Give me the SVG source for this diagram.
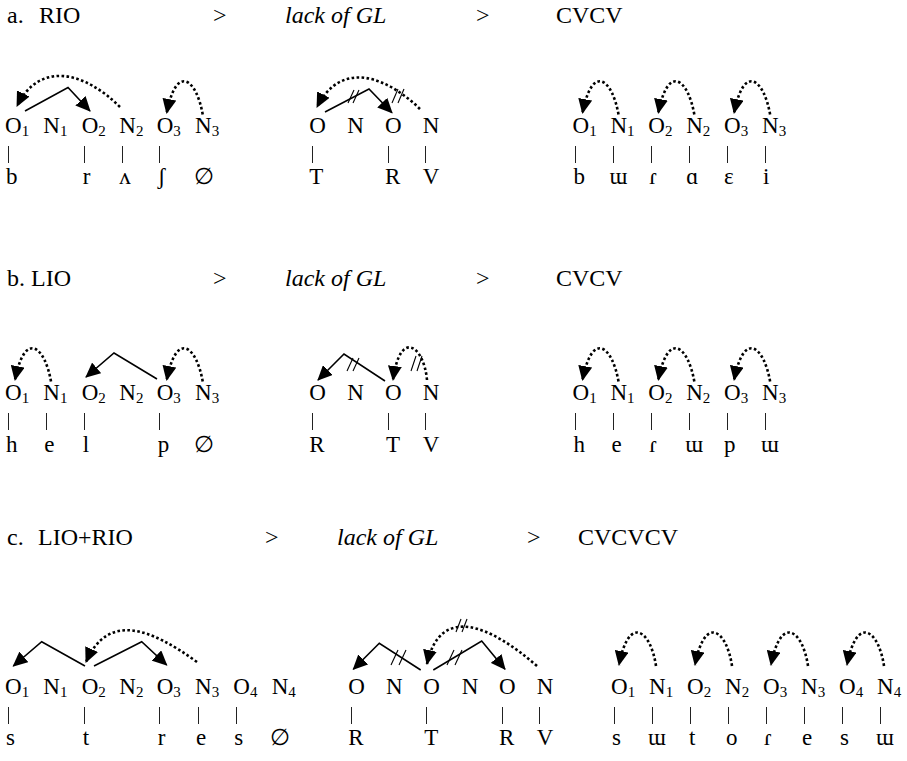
<svg xmlns="http://www.w3.org/2000/svg" width="907" height="761" viewBox="0 0 907 761">
<style>
.t{font-family:"Liberation Serif","DejaVu Serif",serif;font-size:23px;fill:#000}
.h{font-size:24px}
.i{font-style:italic}
.s{font-size:15px}
.bar{stroke:#222;stroke-width:1}
.solid{fill:none;stroke:#000;stroke-width:1.6}
.dot{fill:none;stroke:#000;stroke-width:2.6;stroke-dasharray:2.6 2.4}
.cut{stroke:#000;stroke-width:1.1}
</style>
<defs>
<marker id="ah" markerUnits="userSpaceOnUse" markerWidth="15" markerHeight="14" viewBox="0 0 15 14" refX="14" refY="7" orient="auto"><path d="M0,0 L15,7 L0,14 z" fill="#000"/></marker>
</defs>
<rect width="907" height="761" fill="#fff"/>

<g id="headers" class="t h">
<text x="7" y="23">a.</text><text x="39" y="23">RIO</text><text x="213" y="23">&gt;</text><text class="i" x="285" y="23">lack of GL</text><text x="476" y="23">&gt;</text><text x="556" y="23">CVCV</text>
<text x="7" y="286">b. LIO</text><text x="213" y="286">&gt;</text><text class="i" x="285" y="286">lack of GL</text><text x="476" y="286">&gt;</text><text x="556" y="286">CVCV</text>
<text x="7" y="545">c.</text><text x="38" y="545">LIO+RIO</text><text x="265" y="545">&gt;</text><text class="i" x="337" y="545">lack of GL</text><text x="527" y="545">&gt;</text><text x="578" y="545">CVCVCV</text>
</g>

<!-- Row a left -->
<g id="a-L-O1" class="t"><text x="5" y="133">O<tspan class="s" dy="3">1</tspan></text><line class="bar" x1="8.5" y1="146" x2="8.5" y2="163"/><text x="6" y="184">b</text></g>
<g id="a-L-N1" class="t"><text x="43.3" y="133">N<tspan class="s" dy="3">1</tspan></text></g>
<g id="a-L-O2" class="t"><text x="81.7" y="133">O<tspan class="s" dy="3">2</tspan></text><line class="bar" x1="84.5" y1="146" x2="84.5" y2="163"/><text x="82.7" y="184">r</text></g>
<g id="a-L-N2" class="t"><text x="119.3" y="133">N<tspan class="s" dy="3">2</tspan></text><line class="bar" x1="122.5" y1="146" x2="122.5" y2="163"/><text x="119.3" y="184">ʌ</text></g>
<g id="a-L-O3" class="t"><text x="156.7" y="133">O<tspan class="s" dy="3">3</tspan></text><line class="bar" x1="159.5" y1="146" x2="159.5" y2="163"/><text x="157.7" y="184">ʃ</text></g>
<g id="a-L-N3" class="t"><text x="195" y="133">N<tspan class="s" dy="3">3</tspan></text><text x="194" y="184">∅</text></g>

<!-- Row a middle -->
<g id="a-M-O1" class="t"><text x="309.3" y="133">O</text><line class="bar" x1="312.5" y1="146" x2="312.5" y2="163"/><text x="309.3" y="184">T</text></g>
<g id="a-M-N1" class="t"><text x="347.3" y="133">N</text></g>
<g id="a-M-O2" class="t"><text x="385" y="133">O</text><line class="bar" x1="388.5" y1="146" x2="388.5" y2="163"/><text x="385" y="184">R</text></g>
<g id="a-M-N2" class="t"><text x="422.7" y="133">N</text><line class="bar" x1="425.5" y1="146" x2="425.5" y2="163"/><text x="422.7" y="184">V</text></g>

<!-- Row a right -->
<g id="a-R-O1" class="t"><text x="572.5" y="133">O<tspan class="s" dy="3">1</tspan></text><line class="bar" x1="575.5" y1="146" x2="575.5" y2="163"/><text x="573.5" y="184">b</text></g>
<g id="a-R-N1" class="t"><text x="610.4" y="133">N<tspan class="s" dy="3">1</tspan></text><line class="bar" x1="613.5" y1="146" x2="613.5" y2="163"/><text x="609.4" y="184">ɯ</text></g>
<g id="a-R-O2" class="t"><text x="648.3" y="133">O<tspan class="s" dy="3">2</tspan></text><line class="bar" x1="651.5" y1="146" x2="651.5" y2="163"/><text x="649.3" y="184">ɾ</text></g>
<g id="a-R-N2" class="t"><text x="686.2" y="133">N<tspan class="s" dy="3">2</tspan></text><line class="bar" x1="689.5" y1="146" x2="689.5" y2="163"/><text x="686.2" y="184">ɑ</text></g>
<g id="a-R-O3" class="t"><text x="724.1" y="133">O<tspan class="s" dy="3">3</tspan></text><line class="bar" x1="727.5" y1="146" x2="727.5" y2="163"/><text x="724.1" y="184">ɛ</text></g>
<g id="a-R-N3" class="t"><text x="762" y="133">N<tspan class="s" dy="3">3</tspan></text><line class="bar" x1="765.5" y1="146" x2="765.5" y2="163"/><text x="763" y="184">i</text></g>

<!-- Row b left -->
<g id="b-L-O1" class="t"><text x="5" y="400">O<tspan class="s" dy="3">1</tspan></text><line class="bar" x1="8.5" y1="413" x2="8.5" y2="430"/><text x="6" y="452">h</text></g>
<g id="b-L-N1" class="t"><text x="43.3" y="400">N<tspan class="s" dy="3">1</tspan></text><line class="bar" x1="46.5" y1="413" x2="46.5" y2="430"/><text x="44.3" y="452">e</text></g>
<g id="b-L-O2" class="t"><text x="81.7" y="400">O<tspan class="s" dy="3">2</tspan></text><line class="bar" x1="84.5" y1="413" x2="84.5" y2="430"/><text x="82.7" y="452">l</text></g>
<g id="b-L-N2" class="t"><text x="119.3" y="400">N<tspan class="s" dy="3">2</tspan></text></g>
<g id="b-L-O3" class="t"><text x="156.7" y="400">O<tspan class="s" dy="3">3</tspan></text><line class="bar" x1="159.5" y1="413" x2="159.5" y2="430"/><text x="157.7" y="452">p</text></g>
<g id="b-L-N3" class="t"><text x="195" y="400">N<tspan class="s" dy="3">3</tspan></text><text x="194" y="452">∅</text></g>

<!-- Row b middle -->
<g id="b-M-O1" class="t"><text x="309.3" y="400">O</text><line class="bar" x1="312.5" y1="413" x2="312.5" y2="430"/><text x="309.3" y="452">R</text></g>
<g id="b-M-N1" class="t"><text x="347.3" y="400">N</text></g>
<g id="b-M-O2" class="t"><text x="385" y="400">O</text><line class="bar" x1="388.5" y1="413" x2="388.5" y2="430"/><text x="386" y="452">T</text></g>
<g id="b-M-N2" class="t"><text x="422.7" y="400">N</text><line class="bar" x1="425.5" y1="413" x2="425.5" y2="430"/><text x="422.7" y="452">V</text></g>

<!-- Row b right -->
<g id="b-R-O1" class="t"><text x="572.5" y="400">O<tspan class="s" dy="3">1</tspan></text><line class="bar" x1="575.5" y1="413" x2="575.5" y2="430"/><text x="573.5" y="452">h</text></g>
<g id="b-R-N1" class="t"><text x="610.4" y="400">N<tspan class="s" dy="3">1</tspan></text><line class="bar" x1="613.5" y1="413" x2="613.5" y2="430"/><text x="611.4" y="452">e</text></g>
<g id="b-R-O2" class="t"><text x="648.3" y="400">O<tspan class="s" dy="3">2</tspan></text><line class="bar" x1="651.5" y1="413" x2="651.5" y2="430"/><text x="649.3" y="452">ɾ</text></g>
<g id="b-R-N2" class="t"><text x="686.2" y="400">N<tspan class="s" dy="3">2</tspan></text><line class="bar" x1="689.5" y1="413" x2="689.5" y2="430"/><text x="685.2" y="452">ɯ</text></g>
<g id="b-R-O3" class="t"><text x="724.1" y="400">O<tspan class="s" dy="3">3</tspan></text><line class="bar" x1="727.5" y1="413" x2="727.5" y2="430"/><text x="724.1" y="452">p</text></g>
<g id="b-R-N3" class="t"><text x="762" y="400">N<tspan class="s" dy="3">3</tspan></text><line class="bar" x1="765.5" y1="413" x2="765.5" y2="430"/><text x="761" y="452">ɯ</text></g>

<!-- Row c left -->
<g id="c-L-O1" class="t"><text x="5" y="694">O<tspan class="s" dy="3">1</tspan></text><line class="bar" x1="8.5" y1="707" x2="8.5" y2="724"/><text x="6" y="745">s</text></g>
<g id="c-L-N1" class="t"><text x="43.3" y="694">N<tspan class="s" dy="3">1</tspan></text></g>
<g id="c-L-O2" class="t"><text x="81.7" y="694">O<tspan class="s" dy="3">2</tspan></text><line class="bar" x1="84.5" y1="707" x2="84.5" y2="724"/><text x="82.7" y="745">t</text></g>
<g id="c-L-N2" class="t"><text x="119.3" y="694">N<tspan class="s" dy="3">2</tspan></text></g>
<g id="c-L-O3" class="t"><text x="156.7" y="694">O<tspan class="s" dy="3">3</tspan></text><line class="bar" x1="159.5" y1="707" x2="159.5" y2="724"/><text x="157.7" y="745">r</text></g>
<g id="c-L-N3" class="t"><text x="195" y="694">N<tspan class="s" dy="3">3</tspan></text><line class="bar" x1="198.5" y1="707" x2="198.5" y2="724"/><text x="196" y="745">e</text></g>
<g id="c-L-O4" class="t"><text x="233.3" y="694">O<tspan class="s" dy="3">4</tspan></text><line class="bar" x1="236.5" y1="707" x2="236.5" y2="724"/><text x="234.3" y="745">s</text></g>
<g id="c-L-N4" class="t"><text x="271.7" y="694">N<tspan class="s" dy="3">4</tspan></text><text x="270" y="745">∅</text></g>

<!-- Row c middle -->
<g id="c-M-O1" class="t"><text x="348.3" y="694">O</text><line class="bar" x1="351.5" y1="707" x2="351.5" y2="724"/><text x="348.3" y="745">R</text></g>
<g id="c-M-N1" class="t"><text x="386" y="694">N</text></g>
<g id="c-M-O2" class="t"><text x="423.3" y="694">O</text><line class="bar" x1="426.5" y1="707" x2="426.5" y2="724"/><text x="424.3" y="745">T</text></g>
<g id="c-M-N2" class="t"><text x="461.7" y="694">N</text></g>
<g id="c-M-O3" class="t"><text x="499" y="694">O</text><line class="bar" x1="502.5" y1="707" x2="502.5" y2="724"/><text x="499" y="745">R</text></g>
<g id="c-M-N3" class="t"><text x="536.7" y="694">N</text><line class="bar" x1="539.5" y1="707" x2="539.5" y2="724"/><text x="536.7" y="745">V</text></g>

<!-- Row c right -->
<g id="c-R-O1" class="t"><text x="611" y="694">O<tspan class="s" dy="3">1</tspan></text><line class="bar" x1="614.5" y1="707" x2="614.5" y2="724"/><text x="612" y="745">s</text></g>
<g id="c-R-N1" class="t"><text x="649" y="694">N<tspan class="s" dy="3">1</tspan></text><line class="bar" x1="652.5" y1="707" x2="652.5" y2="724"/><text x="648" y="745">ɯ</text></g>
<g id="c-R-O2" class="t"><text x="687" y="694">O<tspan class="s" dy="3">2</tspan></text><line class="bar" x1="690.5" y1="707" x2="690.5" y2="724"/><text x="689" y="745">t</text></g>
<g id="c-R-N2" class="t"><text x="725" y="694">N<tspan class="s" dy="3">2</tspan></text><line class="bar" x1="728.5" y1="707" x2="728.5" y2="724"/><text x="726" y="745">o</text></g>
<g id="c-R-O3" class="t"><text x="763" y="694">O<tspan class="s" dy="3">3</tspan></text><line class="bar" x1="766.5" y1="707" x2="766.5" y2="724"/><text x="764" y="745">ɾ</text></g>
<g id="c-R-N3" class="t"><text x="801" y="694">N<tspan class="s" dy="3">3</tspan></text><line class="bar" x1="804.5" y1="707" x2="804.5" y2="724"/><text x="802" y="745">e</text></g>
<g id="c-R-O4" class="t"><text x="839" y="694">O<tspan class="s" dy="3">4</tspan></text><line class="bar" x1="842.5" y1="707" x2="842.5" y2="724"/><text x="840" y="745">s</text></g>
<g id="c-R-N4" class="t"><text x="877" y="694">N<tspan class="s" dy="3">4</tspan></text><line class="bar" x1="880.5" y1="707" x2="880.5" y2="724"/><text x="876" y="745">ɯ</text></g>

<g id="connectors">
<!-- row a left -->
<path class="solid" marker-end="url(#ah)" d="M25,111 L68,87.5 L90,111"/>
<path class="dot" marker-end="url(#ah)" d="M120,107 C85,72 40,60 17,106"/>
<path class="dot" marker-end="url(#ah)" d="M202.7,114.5 C196.7,80 176.7,62 166.7,113"/>
<!-- row a middle -->
<path class="solid" marker-end="url(#ah)" d="M325,112 L369,89 L392,112.7"/>
<path class="dot" marker-end="url(#ah)" d="M420,109 C388,78 342,58 317,107"/>
<line class="cut" x1="348" y1="103" x2="354" y2="90"/><line class="cut" x1="353" y1="103" x2="359" y2="90"/>
<line class="cut" x1="392" y1="103" x2="398" y2="89"/><line class="cut" x1="398" y1="103" x2="404" y2="89"/>
<!-- row a right -->
<path class="dot" marker-end="url(#ah)" d="M618.5,114.5 C612.5,80 592.5,62 582.5,113"/>
<path class="dot" marker-end="url(#ah)" d="M694.3,114.5 C688.3,80 668.3,62 658.3,113"/>
<path class="dot" marker-end="url(#ah)" d="M770.1,114.5 C764.1,80 744.1,62 734.1,113"/>
<!-- row b left -->
<path class="dot" marker-end="url(#ah)" d="M51,381.5 C45,347 25,329 15,380"/>
<path class="solid" marker-end="url(#ah)" d="M157,379 L114,353 L86,377"/>
<path class="dot" marker-end="url(#ah)" d="M202.7,381.5 C196.7,347 176.7,329 166.7,380"/>
<!-- row b middle -->
<path class="solid" marker-end="url(#ah)" d="M385,381 L344,354 L318,380"/>
<path class="dot" marker-end="url(#ah)" d="M427,380 C424,346 400,328 393,380"/>
<line class="cut" x1="347" y1="371" x2="353" y2="358"/><line class="cut" x1="353" y1="371" x2="359" y2="358"/>
<line class="cut" x1="411" y1="371" x2="416" y2="356"/><line class="cut" x1="417" y1="371" x2="422" y2="356"/>
<!-- row b right -->
<path class="dot" marker-end="url(#ah)" d="M618.5,381.5 C612.5,347 592.5,329 582.5,380"/>
<path class="dot" marker-end="url(#ah)" d="M694.3,381.5 C688.3,347 668.3,329 658.3,380"/>
<path class="dot" marker-end="url(#ah)" d="M770.1,381.5 C764.1,347 744.1,329 734.1,380"/>
<!-- row c left -->
<path class="solid" marker-end="url(#ah)" d="M85,666 L41.7,641.7 L13.3,666"/>
<path class="solid" marker-end="url(#ah)" d="M94,666 L141.7,641.7 L166.7,665"/>
<path class="dot" marker-end="url(#ah)" d="M197,662 C150,628 108,612 86,662"/>
<!-- row c middle -->
<path class="solid" marker-end="url(#ah)" d="M420.7,670 L379.3,643.3 L353.3,669.3"/>
<path class="solid" marker-end="url(#ah)" d="M433.3,670 L481.7,641 L505,669.3"/>
<path class="dot" marker-end="url(#ah)" d="M537,666 C490,625 440,604 427,664"/>
<line class="cut" x1="391" y1="665" x2="398" y2="650"/><line class="cut" x1="399" y1="665" x2="406" y2="650"/>
<line class="cut" x1="447" y1="665" x2="454" y2="650"/><line class="cut" x1="455" y1="665" x2="462" y2="650"/>
<line class="cut" x1="456" y1="632" x2="461" y2="619"/><line class="cut" x1="462" y1="632" x2="467" y2="619"/>
<!-- row c right -->
<path class="dot" marker-end="url(#ah)" d="M656,666 C651,631 629,613 619,665"/>
<path class="dot" marker-end="url(#ah)" d="M732,666 C727,631 705,613 695,665"/>
<path class="dot" marker-end="url(#ah)" d="M808,666 C803,631 781,613 771,665"/>
<path class="dot" marker-end="url(#ah)" d="M884,666 C879,631 857,613 847,665"/>
</g>
</svg>
